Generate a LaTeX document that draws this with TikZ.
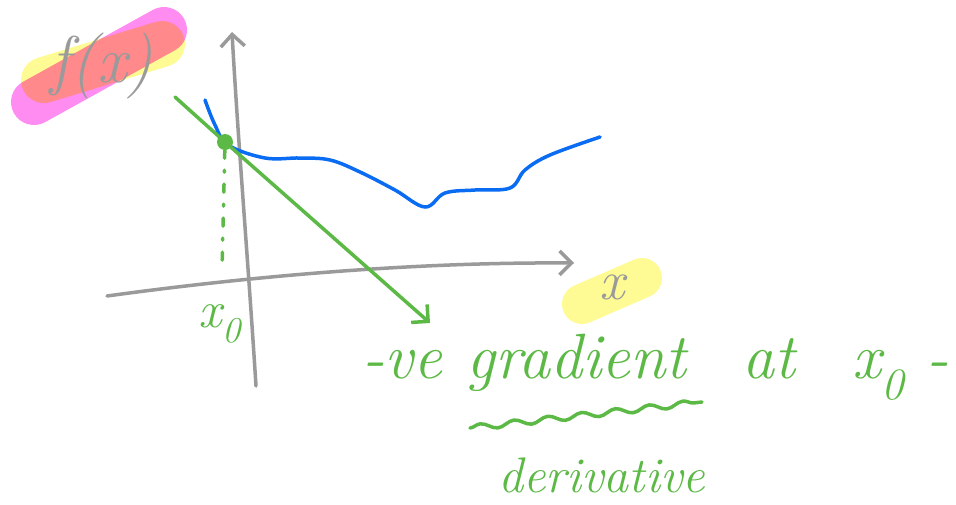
\documentclass[tikz,border=0pt]{standalone}
\usepackage{tikz}
\usetikzlibrary{
  arrows.meta,
  decorations.pathmorphing,
  positioning
}
\definecolor{pencil}{HTML}{9A9A9A}
\definecolor{pen}{HTML}{5CB946}
\definecolor{curveblue}{HTML}{0A6CF2}
\definecolor{hlyellow}{HTML}{FFFB94}
\definecolor{hlpink}{HTML}{FF8CF0}
\tikzset{
  axis/.style={
    -{Straight Barb[length=12pt,width=24pt]},
    draw=pencil,
    line width=3.5pt,
    line cap=round,
    line join=round
  },
  marker/.style={
    line width=46pt,
    line cap=round
  },
  penline/.style={
    draw=pen,
    line width=3.5pt,
    line cap=round,
    line join=round
  },
  scrawl/.style={
    text=pen,
    inner sep=0pt,
    font=\fontsize{64}{70}\selectfont\itshape
  }
}

\begin{document}
\begin{tikzpicture}[x=1pt,y=-1pt]
  \useasboundingbox (0,0) rectangle (956,504);
  % highlighter behind the labels
  \draw[marker, draw=hlpink] (34,102) -- (164,30);
  \draw[marker, draw=hlyellow, blend mode=multiply] (44,80) -- (162,44);
  \draw[marker, draw=hlyellow, line width=40pt] (582,304) -- (642,278);

  \node[text=pencil, font=\fontsize{66}{70}\selectfont\itshape] (fx) at (102,66) {f(x)};
  \node[text=pencil, font=\fontsize{56}{60}\selectfont\itshape] (xlab) at (612,287) {x};

  % axes
  \coordinate (yfoot) at (256,386);
  \coordinate (ytop) at (232,32);
  \coordinate (xfoot) at (107,296);
  \coordinate (xtip) at (574,263);
  \draw[axis] (yfoot) .. controls (248,260) and (238,140) .. (ytop);
  \draw[axis] (xfoot) .. controls (260,275) and (420,262) .. (xtip);

  % the function
  \draw[draw=curveblue, line width=3.5pt, line cap=round] plot[smooth, tension=0.6] coordinates {
    (205,100) (215,125) (228,145) (265,158) (300,158) (330,160)
    (360,172) (395,190) (425,207) (445,193) (475,190) (510,188)
    (525,170) (550,155) (600,137)
  };

  % point, tangent and its foot
  \node[circle, fill=pen, minimum size=16pt, inner sep=0pt] (xzero) at (225,142) {};
  \coordinate (tanstart) at (175,97);
  \coordinate (tanend) at (430,323);
  \draw[penline] (tanstart) -- (xzero);
  \draw[penline, -{Straight Barb[length=12pt,width=24pt]}] (xzero) -- (tanend);
  \coordinate (foot) at (222,270);
  \draw[penline, dash pattern=on 8pt off 12pt on 2pt off 12pt] (xzero) -- (foot);
  \node[scrawl, font=\fontsize{52}{56}\selectfont\itshape] (x0lab) at (220,324) {x\textsubscript{0}};

  % the note
  \node[scrawl, anchor=base west] (neg) at (362,378) {-ve};
  \node[scrawl, anchor=base west] (grad) at (466,378) {gradient};
  \node[scrawl, anchor=base west] (at) at (742,378) {at};
  \node[scrawl, anchor=base west] (xo) at (852,378) {x\textsubscript{0} -};
  \coordinate (wavestart) at (470,428);
  \coordinate (waveend) at (702,402);
  \draw[penline, decorate, decoration={snake, amplitude=3pt, segment length=34pt}] (wavestart) -- (waveend);
  \node[scrawl, anchor=base west, font=\fontsize{50}{54}\selectfont\itshape] (deriv) at (498,492) {derivative};
\end{tikzpicture}
\end{document}
